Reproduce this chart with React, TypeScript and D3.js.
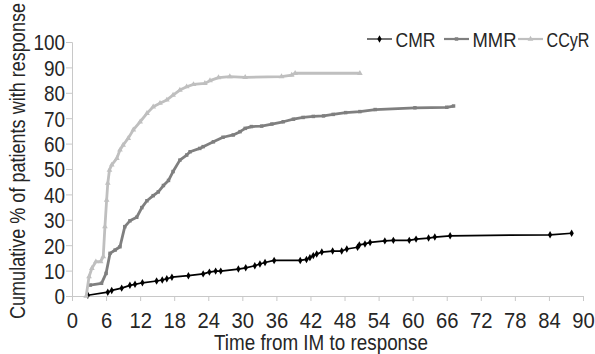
import { useEffect, useRef } from "react";
import * as d3 from "d3";

// months from imatinib start, cumulative % responding
const cmrMonths = [2.8, 6.3, 7.0, 8.75, 10.2, 11.1, 12.4, 14.9, 15.9, 16.7, 17.6, 20.5, 23.1, 24.2, 25.3, 26.2, 29.3, 30.6, 32.2, 33.1, 34.0, 35.6, 40.2, 41.3, 41.9, 42.5, 43.1, 44.0, 45.9, 47.5, 48.4, 50.3, 50.6, 51.6, 52.5, 55.1, 56.6, 59.4, 60.6, 62.8, 63.9, 66.6, 84.2, 88.0];
const cmrValues = [0.3, 1.5, 2.2, 3.1, 4.2, 4.6, 5.2, 5.9, 6.3, 6.8, 7.4, 8.0, 8.7, 9.4, 9.8, 9.8, 10.6, 11.1, 11.9, 12.6, 13.2, 14.0, 14.0, 14.4, 15.1, 15.9, 16.5, 17.3, 17.7, 17.7, 18.5, 19.2, 20.1, 20.5, 21.1, 21.7, 21.9, 21.9, 22.4, 22.8, 23.2, 23.7, 24.1, 24.7];

const mmrMonths = [3.2, 5.2, 6.0, 6.7, 7.6, 8.45, 9.3, 10.2, 11.4, 12.3, 13.2, 14.3, 15.2, 16.1, 17.0, 17.8, 19.0, 20.2, 20.8, 22.5, 23.1, 24.9, 26.6, 28.4, 29.6, 30.5, 31.6, 33.4, 35.2, 37.2, 39.0, 40.7, 42.5, 44.3, 46.0, 48.2, 50.7, 53.4, 60.4, 66.0, 67.2];
const mmrValues = [4.3, 5.0, 8.9, 16.8, 18.1, 19.4, 27.3, 29.6, 31.0, 34.8, 37.5, 39.5, 41.0, 43.5, 45.5, 49.0, 53.5, 55.5, 56.8, 58.1, 58.8, 60.7, 62.5, 63.4, 64.7, 66.0, 66.7, 66.9, 67.7, 68.6, 69.6, 70.3, 70.7, 70.9, 71.5, 72.2, 72.6, 73.4, 74.1, 74.3, 74.8];

const ccyrMonths = [2.5, 3.0, 3.5, 4.2, 5.05, 5.5, 5.8, 6.1, 6.3, 6.6, 7.0, 7.9, 8.45, 9.0, 9.9, 10.8, 12.0, 13.2, 14.3, 15.5, 16.7, 17.8, 19.0, 20.2, 21.4, 23.4, 24.3, 25.8, 27.8, 30.5, 36.9, 38.7, 39.3, 50.7];
const ccyrValues = [0, 7.6, 10.9, 13.5, 13.5, 15.5, 27.3, 37.8, 44.4, 49.6, 51.6, 54.2, 57.5, 59.4, 62.1, 65.4, 68.6, 71.9, 74.5, 75.9, 77.2, 79.1, 81.1, 82.4, 83.3, 83.7, 84.8, 86.0, 86.4, 86.1, 86.4, 87.0, 87.7, 87.7];

const xTicks = d3.range(0, 91, 6);
const yTicks = d3.range(0, 101, 10);

const series = [
  { name: "CMR", months: cmrMonths, values: cmrValues, color: "#000000", width: 1.7, symbol: d3.symbolDiamond, size: 16 },
  { name: "MMR", months: mmrMonths, values: mmrValues, color: "#7f7f7f", width: 2.8, symbol: d3.symbolSquare, size: 12 },
  { name: "CCyR", months: ccyrMonths, values: ccyrValues, color: "#bfbfbf", width: 2.8, symbol: d3.symbolTriangle, size: 14 },
];

const FONT = "'Liberation Sans Narrow', 'Arial Narrow', sans-serif";
const TEXT = "#262626";

export default function App() {
  const svgRef = useRef<SVGSVGElement>(null);

  useEffect(() => {
    if (!svgRef.current) return;
    const svg = d3.select(svgRef.current);
    svg.selectAll("*").remove();

    const x = d3.scaleLinear().domain([0, 90]).range([72, 583]);
    const y = d3.scaleLinear().domain([0, 100]).range([296, 42]);
    const axisColor = "#c8c8c8";

    // Y axis
    const yAxis = svg.append("g").attr("transform", `translate(${x(0)},0)`).call(d3.axisLeft(y).tickValues(yTicks).tickSize(6));
    yAxis.select(".domain").attr("stroke", axisColor);
    yAxis.selectAll(".tick line").attr("stroke", axisColor);
    yAxis.selectAll("text")
      .style("font-family", FONT).style("font-size", "22px").attr("fill", TEXT)
      .attr("x", -8).attr("dy", "0.36em")
      .attr("transform", "scale(0.86,1)");

    // X axis
    const xAxis = svg.append("g").attr("transform", `translate(0,${y(0)})`).call(d3.axisBottom(x).tickValues(xTicks).tickSize(5));
    xAxis.select(".domain").attr("stroke", axisColor);
    xAxis.selectAll(".tick line").attr("stroke", axisColor);
    xAxis.selectAll("text")
      .style("font-family", FONT).style("font-size", "22px").attr("fill", TEXT)
      .attr("y", 32).attr("dy", 0)
      .attr("transform", "scale(0.92,1)");

    // Lines and markers
    series.forEach((s) => {
      const pts = s.months.map((m, i) => [m, s.values[i]] as [number, number]);
      const line = d3.line<[number, number]>().x((d) => x(d[0])).y((d) => y(d[1]));
      svg.append("path").datum(pts).attr("d", line).attr("fill", "none").attr("stroke", s.color).attr("stroke-width", s.width).attr("stroke-linejoin", "round");
      svg.append("g").selectAll("path").data(pts).enter().append("path")
        .attr("transform", (d) => `translate(${x(d[0])},${y(d[1])})`)
        .attr("d", d3.symbol().type(s.symbol).size(s.size)())
        .attr("fill", s.color);
    });

    // Legend
    const legendX = [367, 444, 518];
    const legendTextLen = [40, 44, 43];
    series.forEach((s, i) => {
      const g = svg.append("g").attr("transform", `translate(${legendX[i]},39)`);
      g.append("line").attr("x1", 0).attr("x2", 25).attr("stroke", s.color).attr("stroke-width", s.width - 0.6);
      g.append("path").attr("transform", "translate(12.5,0)").attr("d", d3.symbol().type(s.symbol).size(s.size)()).attr("fill", s.color);
      g.append("text").attr("x", 28.5).attr("y", 7.5).style("font-family", FONT).style("font-size", "21px").attr("fill", TEXT)
        .attr("textLength", legendTextLen[i]).attr("lengthAdjust", "spacingAndGlyphs").text(s.name);
    });

    // Axis titles
    svg.append("text").attr("x", 321).attr("y", 350).attr("text-anchor", "middle")
      .style("font-family", FONT).style("font-size", "22px").attr("fill", TEXT)
      .attr("textLength", 214).attr("lengthAdjust", "spacingAndGlyphs").text("Time from IM to response");
    svg.append("text").attr("transform", "translate(25,161) rotate(-90)").attr("text-anchor", "middle")
      .style("font-family", FONT).style("font-size", "22px").attr("fill", TEXT)
      .attr("textLength", 316).attr("lengthAdjust", "spacingAndGlyphs").text("Cumulative % of patients with response");
  }, []);

  return <svg ref={svgRef} width={595} height={354} style={{ position: "absolute", left: 0, top: 0, background: "#fff" }} />;
}
